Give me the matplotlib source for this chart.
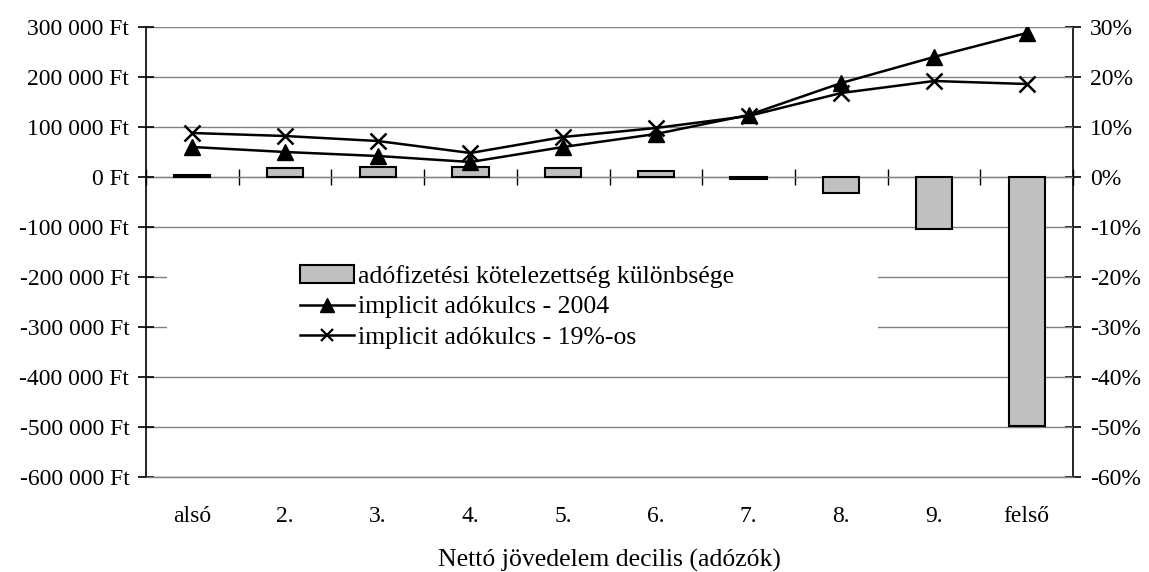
import matplotlib
matplotlib.use("Agg")
import matplotlib.pyplot as plt
import numpy as np
from matplotlib.ticker import FuncFormatter
from matplotlib.patches import Patch, Rectangle
from matplotlib.lines import Line2D

categories = ["alsó", "2.", "3.", "4.", "5.", "6.", "7.", "8.", "9.", "felső"]
diff_ft = [4000, 18000, 20000, 20000, 18000, 12000, -4000, -32000, -104000, -498000]
rate_2004 = [6.0, 5.0, 4.2, 3.0, 6.0, 8.6, 12.4, 18.8, 24.0, 28.8]
rate_19 = [8.8, 8.2, 7.2, 4.8, 8.0, 9.8, 12.2, 16.8, 19.2, 18.6]
left_ticks = list(range(-600000, 300001, 100000))
right_ticks = list(range(-60, 31, 10))

plt.rcParams['font.family'] = ['Liberation Serif', 'DejaVu Serif']
FS = 17
FS_BIG = 18.5

fig = plt.figure(figsize=(11.49, 5.72), dpi=100)
ax = fig.add_axes([146/1149, 1-477/572, (1073-146)/1149, 450/572])
ax2 = ax.twinx()

x = np.arange(len(categories))
ax.set_zorder(1)
ax.patch.set_visible(False)
ax2.set_zorder(0)

ax.bar(x, diff_ft, width=0.39, color='#c0c0c0', edgecolor='black', linewidth=1.5, zorder=3)

ax.set_ylim(-600000, 300000)
ax.set_xlim(-0.5, len(categories)-0.5)
ax.set_yticks(left_ticks)
ax.yaxis.set_major_formatter(FuncFormatter(lambda v, p: f"{int(v):,} Ft".replace(",", " ")))
ax.grid(axis='y', color='#808080', linewidth=1.0, zorder=0)
ax.set_axisbelow(True)

# white legend background area (hides gridlines behind the legend)
ax.add_patch(Rectangle(((167-146)/927, (477-352)/450), (878-167)/927, 100/450,
                       transform=ax.transAxes, facecolor='white', edgecolor='none', zorder=2))

for s in ['top', 'right']:
    ax.spines[s].set_visible(False)
ax.spines['bottom'].set_color('#808080')
ax.spines['bottom'].set_linewidth(1.0)
ax.spines['left'].set_linewidth(1.2)
ax.tick_params(axis='y', direction='inout', length=12, width=1.2, labelsize=FS, pad=6)
ax.set_xticks(x)
ax.set_xticklabels(categories, fontsize=FS)
ax.tick_params(axis='x', length=0, pad=21)

# zero-line axis with boundary ticks
sec = ax.secondary_xaxis(600000/900000)
sec.set_xticks(np.arange(len(categories)+1) - 0.5)
sec.set_xticklabels([])
sec.tick_params(direction='inout', length=12, width=1.0, colors='black')
sec.spines['bottom'].set_color('#808080')
sec.spines['bottom'].set_linewidth(1.0)

ax2.set_ylim(-60, 30)
ax2.set_yticks(right_ticks)
ax2.yaxis.set_major_formatter(FuncFormatter(lambda v, p: f"{int(v)}%"))
for s in ['top', 'bottom', 'left']:
    ax2.spines[s].set_visible(False)
ax2.spines['right'].set_linewidth(1.2)
ax2.tick_params(axis='y', direction='inout', length=12, width=1.2, labelsize=FS, pad=6)

# overlay axis on percentage scale so lines and legend sit above bars
ax3 = fig.add_axes(ax.get_position(), sharex=ax, frameon=False)
ax3.set_zorder(2)
ax3.set_ylim(-60, 30)
ax3.axis('off')
ax3.plot(x, rate_2004, color='black', linewidth=1.8, marker='^', markersize=11, zorder=5)
ax3.plot(x, rate_19, color='black', linewidth=1.8, marker='x', markersize=12, markeredgewidth=1.8, zorder=5)

handles = [
    Patch(facecolor='#c0c0c0', edgecolor='black', linewidth=1.5),
    Line2D([], [], color='black', linewidth=1.8, marker='^', markersize=10),
    Line2D([], [], color='black', linewidth=1.8, marker='x', markersize=8, markeredgewidth=1.6),
]
labels = ["adófizetési kötelezettség különbsége", "implicit adókulcs - 2004", "implicit adókulcs - 19%-os"]
ax3.legend(handles, labels, loc='upper left', bbox_to_anchor=((300-146)/927, (477-265)/450),
           frameon=False, fontsize=FS_BIG, handlelength=2.1, handleheight=0.66, handletextpad=0.15,
           labelspacing=0.3, borderpad=0, borderaxespad=0)

fig.text(609/1149, 1-560/572, "Nettó jövedelem decilis (adózók)", ha='center', va='center', fontsize=FS_BIG)

fig.savefig("out.png", dpi=100)
